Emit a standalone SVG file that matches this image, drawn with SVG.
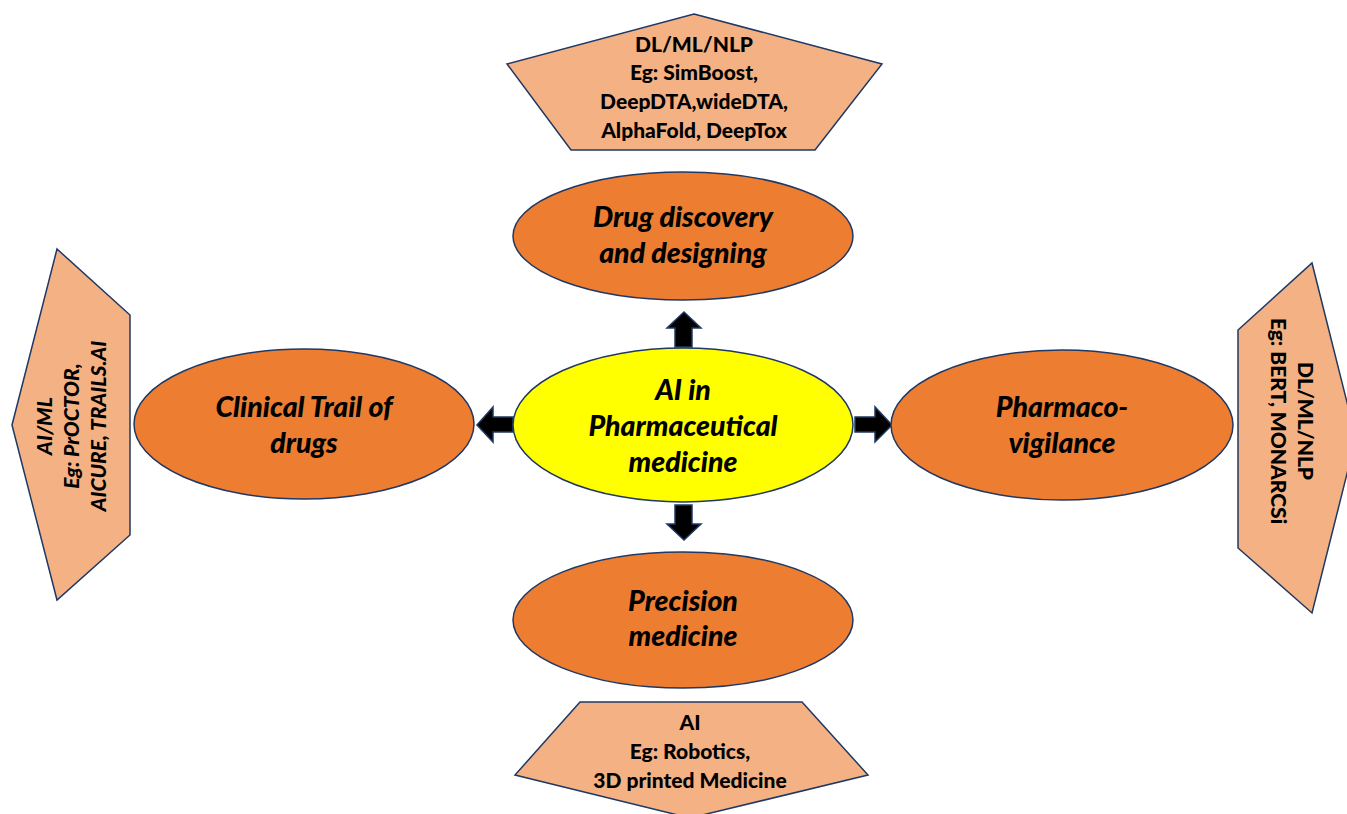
<svg xmlns="http://www.w3.org/2000/svg" width="1347" height="814" viewBox="0 0 1347 814">
<style>
.pent{fill:#F4B183;stroke:#1F3864;stroke-width:1.5}
.ell{fill:#ED7D31;stroke:#1F3864;stroke-width:1.5}
.core{fill:#FFFF00;stroke:#1F3864;stroke-width:1.5}
.arr{fill:#000;stroke:#1F3864;stroke-width:1.5}
.t{font-family:Lato,"Liberation Sans",sans-serif;font-weight:900;fill:#000;text-anchor:middle}
.big{font-size:28.5px;font-style:italic}
.sm{font-size:21px}
.smi{font-size:21px;font-style:italic}
</style>
<rect width="1347" height="814" fill="#fff"/>
<g id="connectors">
<polygon class="arr" points="675,347 675,328 667,328 684,312 701,328 692,328 692,347"/>
<polygon class="arr" points="675,505 675,524 667,524 684,540 701,524 692,524 692,505"/>
<polygon class="arr" points="513,417 493,417 493,407 477,425 493,442 493,432 513,432"/>
<polygon class="arr" points="855,417 875,417 875,407 892,425 875,442 875,432 855,432"/>
</g>
<g id="box-top">
<polygon class="pent" points="694,14 882,64 815,150 571,150 507,64"/>
<text class="t sm" x="694" y="52">DL/ML/NLP</text>
<text class="t sm" x="694" y="80">Eg: SimBoost,</text>
<text class="t sm" x="694" y="109">DeepDTA,wideDTA,</text>
<text class="t sm" x="694" y="138">AlphaFold, DeepTox</text>
</g>
<g id="drug-discovery">
<ellipse class="ell" cx="683" cy="236" rx="170" ry="64"/>
<text class="t big" x="683" y="227">Drug discovery</text>
<text class="t big" x="683" y="263">and designing</text>
</g>
<g id="center">
<ellipse class="core" cx="683" cy="425" rx="170" ry="77"/>
<text class="t big" x="683" y="400">AI in</text>
<text class="t big" x="683" y="436">Pharmaceutical</text>
<text class="t big" x="683" y="472">medicine</text>
</g>
<g id="clinical">
<ellipse class="ell" cx="304" cy="424" rx="170" ry="75"/>
<text class="t big" x="304" y="417">Clinical Trail of</text>
<text class="t big" x="304" y="453">drugs</text>
</g>
<g id="pharmaco">
<ellipse class="ell" cx="1062" cy="425" rx="171" ry="75"/>
<text class="t big" x="1062" y="417">Pharmaco-</text>
<text class="t big" x="1062" y="453">vigilance</text>
</g>
<g id="precision">
<ellipse class="ell" cx="683" cy="620" rx="170" ry="68"/>
<text class="t big" x="683" y="611">Precision</text>
<text class="t big" x="683" y="646">medicine</text>
</g>
<g id="box-bottom">
<polygon class="pent" points="580,702 802,702 868,775 690,818 515,775"/>
<text class="t sm" x="690" y="730">AI</text>
<text class="t sm" x="690" y="759">Eg: Robotics,</text>
<text class="t sm" x="690" y="788">3D printed Medicine</text>
</g>
<g id="box-left">
<polygon class="pent" points="57,249 130,315 130,535 57,600 12,425"/>
<g transform="translate(71,426) rotate(-90)">
<text class="t smi" x="0" y="-19">AI/ML</text>
<text class="t smi" x="0" y="8">Eg: PrOCTOR,</text>
<text class="t smi" x="0" y="35">AICURE, TRAILS.AI</text>
</g>
</g>
<g id="box-right">
<polygon class="pent" points="1312,263 1356,438 1312,613 1238,548 1238,330"/>
<g transform="translate(1290,421) rotate(90)">
<text class="t sm" x="0" y="-8">DL/ML/NLP</text>
<text class="t sm" x="0" y="19">Eg: BERT, MONARCSi</text>
</g>
</g>
</svg>
